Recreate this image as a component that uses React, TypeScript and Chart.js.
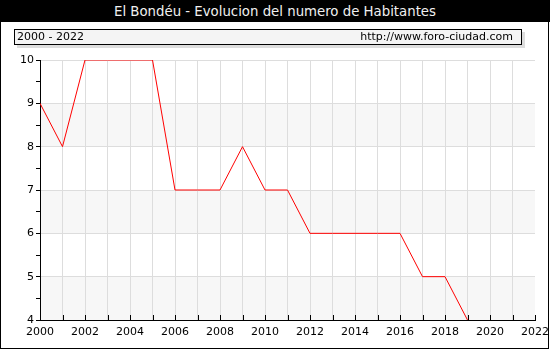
import React, { useEffect, useRef } from 'react';
import { Chart, registerables } from 'chart.js';

Chart.register(...registerables);

const titleText = 'El Bondéu - Evolucion del numero de Habitantes';
const rangeText = '2000 - 2022';
const sourceText = 'http://www.foro-ciudad.com';

const years = [2000, 2001, 2002, 2003, 2004, 2005, 2006, 2007, 2008, 2009, 2010, 2011, 2012, 2013, 2014, 2015, 2016, 2017, 2018, 2019];
const habitantes = [9, 8, 10, 10, 10, 10, 7, 7, 7, 8, 7, 7, 6, 6, 6, 6, 6, 5, 5, 4];
const xTickYears = [2000, 2002, 2004, 2006, 2008, 2010, 2012, 2014, 2016, 2018, 2020, 2022];
const yTickValues = [4, 5, 6, 7, 8, 9, 10];
const shadedBands = [[4, 5], [6, 7], [8, 9]];

const FONT = '"DejaVu Sans", Verdana, sans-serif';

const bandsPlugin = {
  id: 'bands',
  beforeDraw(chart: any) {
    const { ctx, chartArea, scales } = chart;
    const y = scales.y;
    ctx.save();
    ctx.fillStyle = '#f7f7f7';
    for (const [a, b] of shadedBands) {
      const top = y.getPixelForValue(b);
      const bot = y.getPixelForValue(a);
      ctx.fillRect(chartArea.left, top, chartArea.right - chartArea.left, bot - top);
    }
    ctx.restore();
  },
  afterDraw(chart: any) {
    const { ctx, chartArea, scales } = chart;
    const x = scales.x;
    ctx.save();
    ctx.strokeStyle = '#000000';
    ctx.lineWidth = 1;
    for (let yr = 2001; yr <= 2022; yr++) {
      const px = Math.round(x.getPixelForValue(yr)) + 0.5;
      ctx.beginPath();
      ctx.moveTo(px, chartArea.bottom);
      ctx.lineTo(px, chartArea.bottom - 5);
      ctx.stroke();
    }
    ctx.restore();
  },
};

export default function App() {
  const canvasRef = useRef<HTMLCanvasElement | null>(null);

  useEffect(() => {
    if (!canvasRef.current) return;
    const chart = new Chart(canvasRef.current, {
      type: 'line',
      data: {
        datasets: [
          {
            data: years.map((yr, i) => ({ x: yr, y: habitantes[i] })),
            borderColor: '#ff0000',
            borderWidth: 1,
            pointRadius: 0,
            tension: 0,
            fill: false,
          },
        ],
      },
      options: {
        animation: false,
        responsive: false,
        maintainAspectRatio: false,
        layout: { padding: { left: 0, top: 60, right: 15, bottom: 0 } },
        plugins: { legend: { display: false }, tooltip: { enabled: false }, title: { display: false } },
        scales: {
          x: {
            type: 'linear',
            min: 2000,
            max: 2022,
            afterFit(scale: any) {
              scale.height = 30;
              scale.paddingRight = 0;
              scale.paddingLeft = 0;
            },
            afterBuildTicks(scale: any) {
              const t = [];
              for (let yr = 2000; yr <= 2022; yr++) t.push({ value: yr });
              scale.ticks = t;
            },
            ticks: {
              autoSkip: false,
              maxRotation: 0,
              padding: 6,
              color: '#000000',
              font: { family: FONT, size: 11 },
              callback: (v: any) => (xTickYears.includes(Number(v)) ? String(v) : ''),
            },
            grid: {
              color: (c: any) => (c.tick && (c.tick.value === 2022 || c.tick.value === 2000) ? 'rgba(0,0,0,0)' : '#dddddd'),
              drawTicks: false,
              lineWidth: 1,
            },
            border: { display: true, color: '#000000', width: 1 },
          },
          y: {
            min: 4,
            max: 10,
            afterFit(scale: any) {
              scale.width = 40;
              scale.paddingTop = 0;
              scale.paddingBottom = 0;
            },
            afterBuildTicks(scale: any) {
              const t = [];
              for (let v = 4; v <= 10; v += 0.5) t.push({ value: v });
              scale.ticks = t;
            },
            ticks: {
              autoSkip: false,
              padding: 2,
              color: '#000000',
              font: { family: FONT, size: 11 },
              callback: (v: any) => (yTickValues.includes(Number(v)) ? String(v) : ''),
            },
            grid: {
              color: (c: any) => (c.tick && Number.isInteger(c.tick.value) && c.tick.value !== 4 ? '#dddddd' : 'rgba(0,0,0,0)'),
              tickColor: '#000000',
              tickLength: 4,
              drawTicks: true,
              lineWidth: 1,
            },
            border: { display: true, color: '#000000', width: 1 },
          },
        },
      },
      plugins: [bandsPlugin],
    });
    return () => chart.destroy();
  }, []);

  return (
    <div style={{ position: 'absolute', left: 0, top: 0, width: 550, height: 350, background: '#ffffff', fontFamily: FONT }}>
      <canvas ref={canvasRef} width={550} height={350} style={{ position: 'absolute', left: 0, top: 0, width: 550, height: 350 }} />
      <div style={{ position: 'absolute', left: 0, top: 0, width: 547, height: 347, border: '1px solid #000', pointerEvents: 'none' }} />
      <div style={{ position: 'absolute', left: 0, top: 0, width: 550, height: 22, background: '#000', color: '#f0f0f0', fontSize: 13.3, lineHeight: '23px', textAlign: 'center' }}>
        {titleText}
      </div>
      <div style={{ position: 'absolute', left: 14, top: 29, width: 506, height: 14, border: '1px solid #000', background: '#f4f4f4', boxShadow: '3px 3px 0 #dddddd', fontSize: 11, lineHeight: '14px', color: '#000' }}>
        <span style={{ position: 'absolute', left: 2, top: 0 }}>{rangeText}</span>
        <span style={{ position: 'absolute', right: 8, top: 0 }}>{sourceText}</span>
      </div>
    </div>
  );
}
